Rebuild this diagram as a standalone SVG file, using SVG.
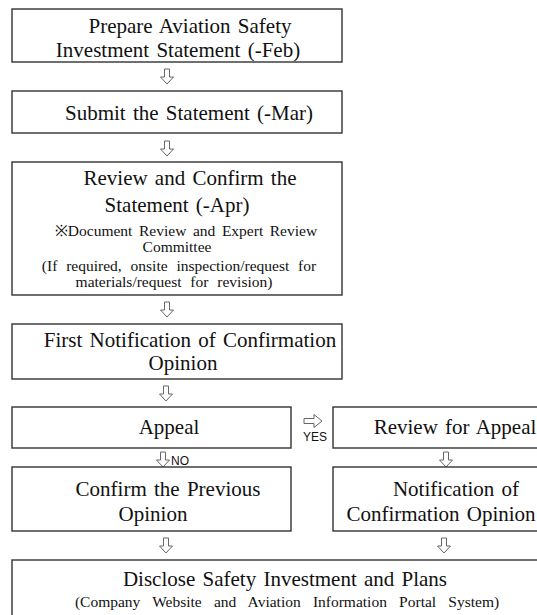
<svg xmlns="http://www.w3.org/2000/svg" xmlns:xlink="http://www.w3.org/1999/xlink" width="537" height="615" viewBox="0 0 537 615">
<style>
.box{fill:#fff;stroke:#333;stroke-width:1.4}
.t{font-family:"Liberation Serif","Times New Roman",serif;fill:#111;text-anchor:middle;word-spacing:2px}
.big{font-size:21px}
.sm{font-size:15.5px;word-spacing:5px}
.lbl{font-family:"Liberation Sans",Arial,sans-serif;font-size:12px;fill:#111}
.arr{fill:#fff;stroke:#666;stroke-width:1}
</style>
<defs>
<path id="darr" d="M-2.5,0 H2.5 V8 H6.5 L0,15 L-6.5,8 H-2.5 Z"/>
<path id="rarr" d="M0,-2.5 V2.5 H10 V6.5 L18,0 L10,-6.5 V-2.5 Z"/>
</defs>
<rect width="537" height="615" fill="#fff"/>
<g id="connectors">
<use xlink:href="#darr" class="arr" x="167" y="69"/>
<use xlink:href="#darr" class="arr" x="167" y="141"/>
<use xlink:href="#darr" class="arr" x="167" y="302"/>
<use xlink:href="#darr" class="arr" x="166" y="386"/>
<use xlink:href="#darr" class="arr" x="163" y="452"/>
<use xlink:href="#rarr" class="arr" x="304" y="421"/>
<use xlink:href="#darr" class="arr" x="446" y="452"/>
<use xlink:href="#darr" class="arr" x="166" y="538"/>
<use xlink:href="#darr" class="arr" x="444" y="538"/>
<text class="lbl" x="171" y="465">NO</text>
<text class="lbl" x="303" y="441">YES</text>
</g>
<g id="n1"><rect class="box" x="12" y="9" width="330" height="53"/>
<text class="t big" x="190" y="33">Prepare Aviation Safety</text>
<text class="t big" x="178" y="57">Investment Statement (-Feb)</text></g>
<g id="n2"><rect class="box" x="12" y="91" width="330" height="42"/>
<text class="t big" x="189" y="120">Submit the Statement (-Mar)</text></g>
<g id="n3"><rect class="box" x="12" y="162" width="330" height="133"/>
<text class="t big" x="190" y="185">Review and Confirm the</text>
<text class="t big" x="177" y="212">Statement (-Apr)</text>
<text class="t sm" x="186" y="236" style="word-spacing:2.7px">※Document Review and Expert Review</text>
<text class="t sm" x="177" y="252">Committee</text>
<text class="t sm" x="179" y="271">(If required, onsite inspection/request for</text>
<text class="t sm" x="174" y="287">materials/request for revision)</text></g>
<g id="n4"><rect class="box" x="12" y="324" width="330" height="55"/>
<text class="t big" x="190" y="347">First Notification of Confirmation</text>
<text class="t big" x="183" y="370">Opinion</text></g>
<g id="n5"><rect class="box" x="12" y="407" width="279" height="41"/>
<text class="t big" x="169" y="434">Appeal</text></g>
<g id="n6"><rect class="box" x="333" y="407" width="210" height="41"/>
<text class="t big" x="455" y="434">Review for Appeal</text></g>
<g id="n7"><rect class="box" x="12" y="467" width="279" height="64"/>
<text class="t big" x="168" y="496">Confirm the Previous</text>
<text class="t big" x="153" y="521">Opinion</text></g>
<g id="n8"><rect class="box" x="333" y="467" width="210" height="64"/>
<text class="t big" x="456" y="496">Notification of</text>
<text class="t big" x="441" y="521">Confirmation Opinion</text></g>
<g id="n9"><rect class="box" x="12" y="560" width="535" height="70"/>
<text class="t big" x="285" y="586">Disclose Safety Investment and Plans</text>
<text class="t sm" x="287" y="607" style="word-spacing:8.3px">(Company Website and Aviation Information Portal System)</text></g>
</svg>
